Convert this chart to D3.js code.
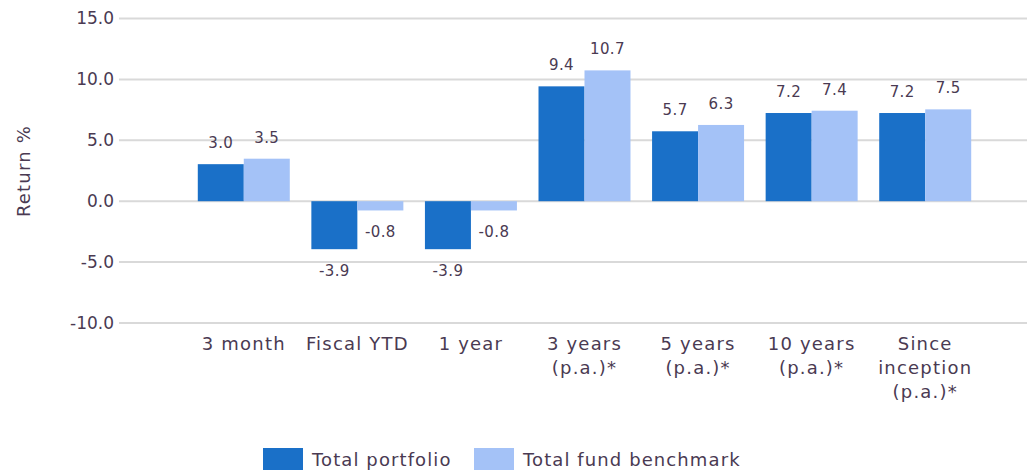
<!DOCTYPE html>
<html><head><meta charset="utf-8">
<script src="https://cdn.jsdelivr.net/npm/d3@7"></script>
<style>body{margin:0;background:#fff}svg{display:block}</style>
</head><body>
<script>
const categories = [["3 month"],["Fiscal YTD"],["1 year"],["3 years","(p.a.)*"],["5 years","(p.a.)*"],["10 years","(p.a.)*"],["Since","inception","(p.a.)*"]];
const seriesNames = ["Total portfolio","Total fund benchmark"];
const portfolio = [3.04, -3.94, -3.94, 9.43, 5.74, 7.24, 7.24];
const benchmark = [3.49, -0.76, -0.76, 10.74, 6.26, 7.43, 7.54];
const yTicks = [-10, -5, 0, 5, 10, 15];
const colors = ["#1a70c8", "#a4c2f7"];
const textColor = "#4a3a52";
const font = "DejaVu Sans";

const W = 1027, H = 473;
const svg = d3.select("body").append("svg").attr("width", W).attr("height", H)
  .style("font-family", font);

const y = d3.scaleLinear().domain([-10, 15]).range([323, 18.5]);
const x = d3.scaleBand().domain(categories.map((c,i)=>i)).range([187, 982]).paddingInner(0.19).paddingOuter(0.095);
const xs = d3.scaleBand().domain([0,1]).range([0, x.bandwidth()]);

// gridlines
svg.append("g").selectAll("line").data(yTicks).join("line")
  .attr("x1", 119).attr("x2", 1027)
  .attr("y1", d=>y(d)).attr("y2", d=>y(d))
  .attr("stroke", "#d9d9d9").attr("stroke-width", 2);

// y tick labels
svg.append("g").selectAll("text").data(yTicks).join("text")
  .attr("x", 114).attr("y", d=>y(d)).attr("dy", "0.35em")
  .attr("text-anchor", "end").attr("fill", textColor).attr("font-size", 17)
  .text(d=>d.toFixed(1));

// y title
svg.append("text").attr("transform", "translate(30,171) rotate(-90)")
  .attr("text-anchor", "middle").attr("fill", textColor).attr("font-size", 18)
  .attr("letter-spacing", 1.2)
  .text("Return %");

const series = [portfolio, benchmark];
series.forEach((vals, s) => {
  const g = svg.append("g");
  g.selectAll("rect").data(vals).join("rect")
    .attr("x", (d,i)=>x(i)+xs(s))
    .attr("width", xs.bandwidth())
    .attr("y", d=>y(Math.max(0,d)))
    .attr("height", d=>Math.abs(y(d)-y(0)))
    .attr("fill", colors[s]);
  g.selectAll("text").data(vals).join("text")
    .attr("x", (d,i)=>x(i)+xs(s)+xs.bandwidth()/2)
    .attr("y", d=> d>=0 ? y(d)-16 : y(d)+27)
    .attr("text-anchor", "middle").attr("fill", textColor).attr("font-size", 15)
    .attr("letter-spacing", 0.4)
    .text(d=>d.toFixed(1));
});

// category labels
const cl = svg.append("g").selectAll("text").data(categories).join("text")
  .attr("x", (d,i)=>x(i)+x.bandwidth()/2).attr("y", 350)
  .attr("text-anchor", "middle").attr("fill", textColor).attr("font-size", 18)
  .attr("letter-spacing", 1.2);
cl.selectAll("tspan").data(d=>d).join("tspan")
  .attr("x", function(){return this.parentNode.getAttribute("x");})
  .attr("dy", (d,i)=> i===0 ? 0 : 24)
  .text(d=>d);

// legend
const legX = [263, 474];
const leg = svg.append("g").selectAll("g").data(seriesNames).join("g")
  .attr("transform", (d,i)=>`translate(${legX[i]},448)`);
leg.append("rect").attr("width", 40).attr("height", 22).attr("fill", (d,i)=>colors[i]);
leg.append("text").attr("x", 49).attr("y", 12).attr("dy", "0.35em")
  .attr("fill", textColor).attr("font-size", 18).attr("letter-spacing", 1.1).text(d=>d);
</script>
</body></html>
